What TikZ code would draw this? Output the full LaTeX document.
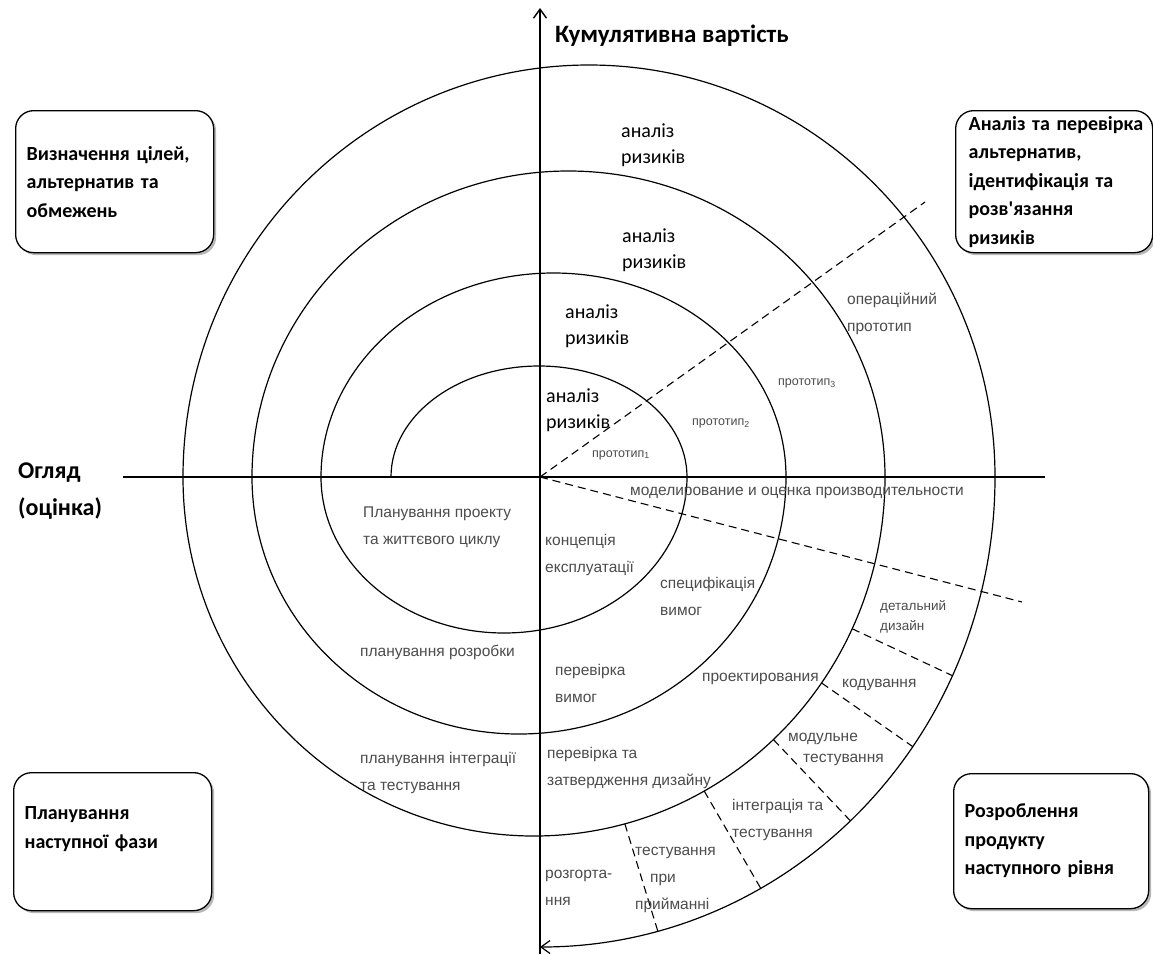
\documentclass[tikz,border=0pt]{standalone}
\usepackage{fontspec}
\setmainfont{Carlito}
\newfontfamily\arialfont{Liberation Sans}
\usepackage{tikz}
\usetikzlibrary{arrows.meta}
\usetikzlibrary{calc}
\usetikzlibrary{shadows}
\tikzstyle{box} = [draw, 
	rounded corners=18pt,
	line width=1.3pt,
	fill=white,
	drop shadow={shadow xshift=2.5pt, shadow yshift=-2.5pt, fill=black!55},
	anchor=north west, align=left,
	inner xsep=11pt, inner ysep=3pt,
	font=\bfseries\fontsize{20}{28.5}\selectfont]
\tikzstyle{phase} = [font=\fontsize{20}{26}\selectfont, anchor=west, align=left, inner sep=0pt]
\tikzstyle{lbl} = [font=\arialfont\fontsize{15.5}{27}\selectfont, text=black!70, anchor=west, align=left, inner sep=0pt]
\tikzstyle{arrow} =[-{Straight Barb[length=9pt, width=13pt]}, line width=1.3pt]
\tikzstyle{cut} = [dash pattern=on 8pt off 5pt, line width=1.1pt]
\newcommand{\bandcut}[1]{\draw[cut] ($ (534,477) + (#1:351 and 359) $) -- ($ (540,477) + (#1:455 and 470) $)}

\begin{document}
\begin{tikzpicture}[x=1pt, y=-1pt]
	\fill[white] (0,0) rectangle (1153,954);
	\useasboundingbox (0,0) rectangle (1153,954);
	
	\coordinate (o) at (540,477);
	\coordinate (top) at (540,8);
	\coordinate (bot) at (540,954);
	\coordinate (west) at (123,477);
	\coordinate (east) at (1045,477);
	\draw [arrow, line width=1.4pt] (bot) -- (top);
	\draw [line width=2.6pt] (west) -- (o);
	\draw [line width=1.3pt] (o) -- (east);
	\node (cost) [font=\bfseries\fontsize{25}{30}\selectfont, anchor=base west, inner sep=0pt] at (555,42) {Кумулятивна вартість};
	\node (review) [font=\bfseries\fontsize{24}{37}\selectfont, anchor=west, align=left, inner sep=0pt] at (18,491) {Огляд\\(оцінка)};
	
	\draw [arrow, line width=1.2pt] (391,477)
		arc[start angle=180, end angle=360, x radius=148, y radius=111]
		arc[start angle=0, end angle=180, x radius=183, y radius=156]
		arc[start angle=180, end angle=360, x radius=232.5, y radius=204]
		arc[start angle=0, end angle=180, x radius=267, y radius=257]
		arc[start angle=180, end angle=360, x radius=316.5, y radius=306]
		arc[start angle=0, end angle=180, x radius=351, y radius=359]
		arc[start angle=180, end angle=360, x radius=406, y radius=412]
		arc[start angle=0, end angle=90, x radius=455, y radius=470];
	
	\coordinate (proto) at (925,202);
	\coordinate (perfend) at (1022,602);
	\draw [cut] (o) -- (proto);
	\draw [cut] (o) -- (perfend);
	\foreach \a in {25,35,47,61,75}
		\bandcut{\a};
	
	\node (goals) [box, text width=176pt, minimum height=142pt] at (15,110) {Визначення цілей,\\альтернатив та\\обмежень};
	\node (risks) [box, text width=171pt, inner xsep=13pt, minimum height=142pt] at (955,110) {\mbox{Аналіз та перевірка}\\альтернатив,\\ідентифікація та\\розв\textquotesingle язання\\ризиків};
	\node (next) [box, text width=176pt, minimum height=138pt] at (13,772) {Планування\\наступної фази\\~};
	\node (dev) [box, text width=173pt, minimum height=135pt] at (953,773) {Розроблення\\продукту\\наступного рівня};
	
	\node (r1) [phase] at (621,145) {аналіз\\ризиків};
	\node (r2) [phase] at (622,250) {аналіз\\ризиків};
	\node (r3) [phase] at (565,326) {аналіз\\ризиків};
	\node (r4) [phase] at (546,410) {аналіз\\ризиків};
	
	\node (p1) [lbl, font=\arialfont\fontsize{12.5}{16}\selectfont] at (592,455) {прототип\textsubscript{1}};
	\node (p2) [lbl, font=\arialfont\fontsize{12.5}{16}\selectfont] at (692,423) {прототип\textsubscript{2}};
	\node (p3) [lbl, font=\arialfont\fontsize{12.5}{16}\selectfont] at (778,383) {прототип\textsubscript{3}};
	\node (op) [lbl] at (847,314) {операційний\\прототип};
	\node (perf) [lbl] at (630,493) {моделирование и оценка производительности};
	\node (conc) [lbl] at (545,555) {концепція\\експлуатації};
	\node (spec) [lbl] at (660,596) {специфікація\\вимог};
	\node (det) [lbl, font=\arialfont\fontsize{13.5}{20}\selectfont] at (880,617) {детальний\\дизайн};
	\node (lcp) [lbl] at (363,527) {Планування проекту\\та життєвого циклу};
	\node (req) [lbl] at (555,683) {перевірка\\вимог};
	\node (des) [lbl] at (702,679) {проектирования};
	\node (code) [lbl] at (842,685) {кодування};
	\node (unit) [lbl, font=\arialfont\fontsize{15.5}{21}\selectfont] at (788,749) {модульне\\\hspace*{15pt}тестування};
	\node (val) [lbl] at (547,768) {перевірка та\\затвердження дизайну};
	\node (intg) [lbl] at (732,820) {інтеграція та\\тестування};
	\node (acc) [lbl] at (635,880) {тестування\\\hspace*{15pt}при\\прийманні};
	\node (depl) [lbl] at (545,888) {розгорта-\\ння};
	\node (devp) [lbl] at (360,652) {планування розробки};
	\node (itp) [lbl] at (360,773) {планування інтеграції\\та тестування};
\end{tikzpicture}
\end{document}
